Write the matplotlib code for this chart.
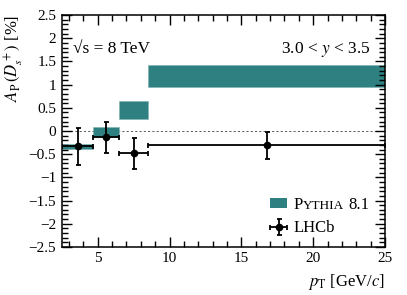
import numpy as np
import matplotlib
matplotlib.use("Agg")
import matplotlib.pyplot as plt
from matplotlib.patches import Patch
from matplotlib.ticker import MultipleLocator

plt.rcParams['font.family'] = ['Liberation Serif', 'DejaVu Serif']
plt.rcParams['mathtext.fontset'] = 'stix'

# pT bin edges [GeV/c]
bin_edges = [2.5, 4.7, 6.5, 8.5, 25.0]

# LHCb measurement (in %)
lhcb_val = [-0.33, -0.14, -0.48, -0.31]
lhcb_err = [0.40, 0.34, 0.33, 0.29]

# PYTHIA 8.1 band (low, high) in %
pythia_lo = [-0.38, -0.14, 0.26, 0.94]
pythia_hi = [-0.29, 0.09, 0.64, 1.43]

teal = '#2f8181'

edges = np.array(bin_edges)
centers = 0.5 * (edges[:-1] + edges[1:])
half_w = 0.5 * np.diff(edges)

fig = plt.figure(figsize=(4.07, 2.95), dpi=100)
ax = fig.add_axes([0.152, 0.163, 0.794, 0.786])

# pythia boxes
ax.bar(edges[:-1], np.array(pythia_hi) - np.array(pythia_lo),
       width=np.diff(edges), bottom=pythia_lo, align='edge',
       color=teal, edgecolor='#7fb0b0', linewidth=0.4, zorder=1)

ax.axhline(0, color='0.35', lw=0.7, ls=(0, (2.2, 2.2)), zorder=0)

# LHCb points
eb = ax.errorbar(centers, lhcb_val, xerr=half_w, yerr=lhcb_err, fmt='o',
                 color='black', ms=4.5, lw=1.3, capsize=1.8, capthick=1.3,
                 zorder=3)

ax.set_xlim(2.5, 25)
ax.set_ylim(-2.5, 2.5)
ax.xaxis.set_major_locator(MultipleLocator(5))
ax.xaxis.set_minor_locator(MultipleLocator(1))
ax.yaxis.set_major_locator(MultipleLocator(0.5))
ax.yaxis.set_minor_locator(MultipleLocator(0.1))
ax.tick_params(which='both', direction='in', top=True, right=True,
               labelsize=11, width=1.0, pad=4)
ax.tick_params(which='major', length=7)
ax.tick_params(which='minor', length=4)
for sp in ax.spines.values():
    sp.set_linewidth(1.1)

ytick_vals = np.arange(-2.5, 2.51, 0.5)
ax.set_yticks(ytick_vals)
ax.set_yticklabels(['\u22122.5', '\u22122', '\u22121.5', '\u22121', '\u22120.5',
                    '0', '0.5', '1', '1.5', '2', '2.5'])

ax.set_xlabel(r'$p_{\mathrm{T}}$ [GeV/$c$]', fontsize=12, loc='right', labelpad=5)
ax.set_ylabel(r'$A_{\mathrm{P}}\,(D_s^+)$ [%]', fontsize=12, loc='top', labelpad=2)

ax.text(0.033, 0.835, '\u221as = 8 TeV', transform=ax.transAxes,
        fontsize=12.5, ha='left', va='baseline')
ax.text(0.955, 0.835, r'3.0 < $y$ < 3.5', transform=ax.transAxes,
        fontsize=12.5, ha='right', va='baseline')

# legend, pythia label written in small caps afterwards
leg = ax.legend([Patch(facecolor=teal, edgecolor='none'), eb], ['P', 'LHCb'],
                loc='lower left', bbox_to_anchor=(0.645, 0.045), frameon=False,
                borderaxespad=0, borderpad=0,
                fontsize=12, handlelength=1.0, handleheight=0.5,
                handletextpad=0.4, labelspacing=0.45)
fig.canvas.draw()

# offset between bbox bottom and baseline for a 12 pt text
probe = fig.text(0, 100, 'P', transform=None, fontsize=12, va='baseline')
fig.canvas.draw()
desc = 100 - probe.get_window_extent().y0
probe.remove()

t0 = leg.get_texts()[0]
bb = t0.get_window_extent()
base_y = bb.y0 + desc
t1 = fig.text(bb.x1 + 0.3, base_y, 'YTHIA', transform=None,
              fontsize=9.5, ha='left', va='baseline')
fig.canvas.draw()
bb1 = t1.get_window_extent()
fig.text(bb1.x1 + 3.5, base_y, '8.1', transform=None,
         fontsize=12, ha='left', va='baseline')

fig.savefig('out.png', dpi=100)
